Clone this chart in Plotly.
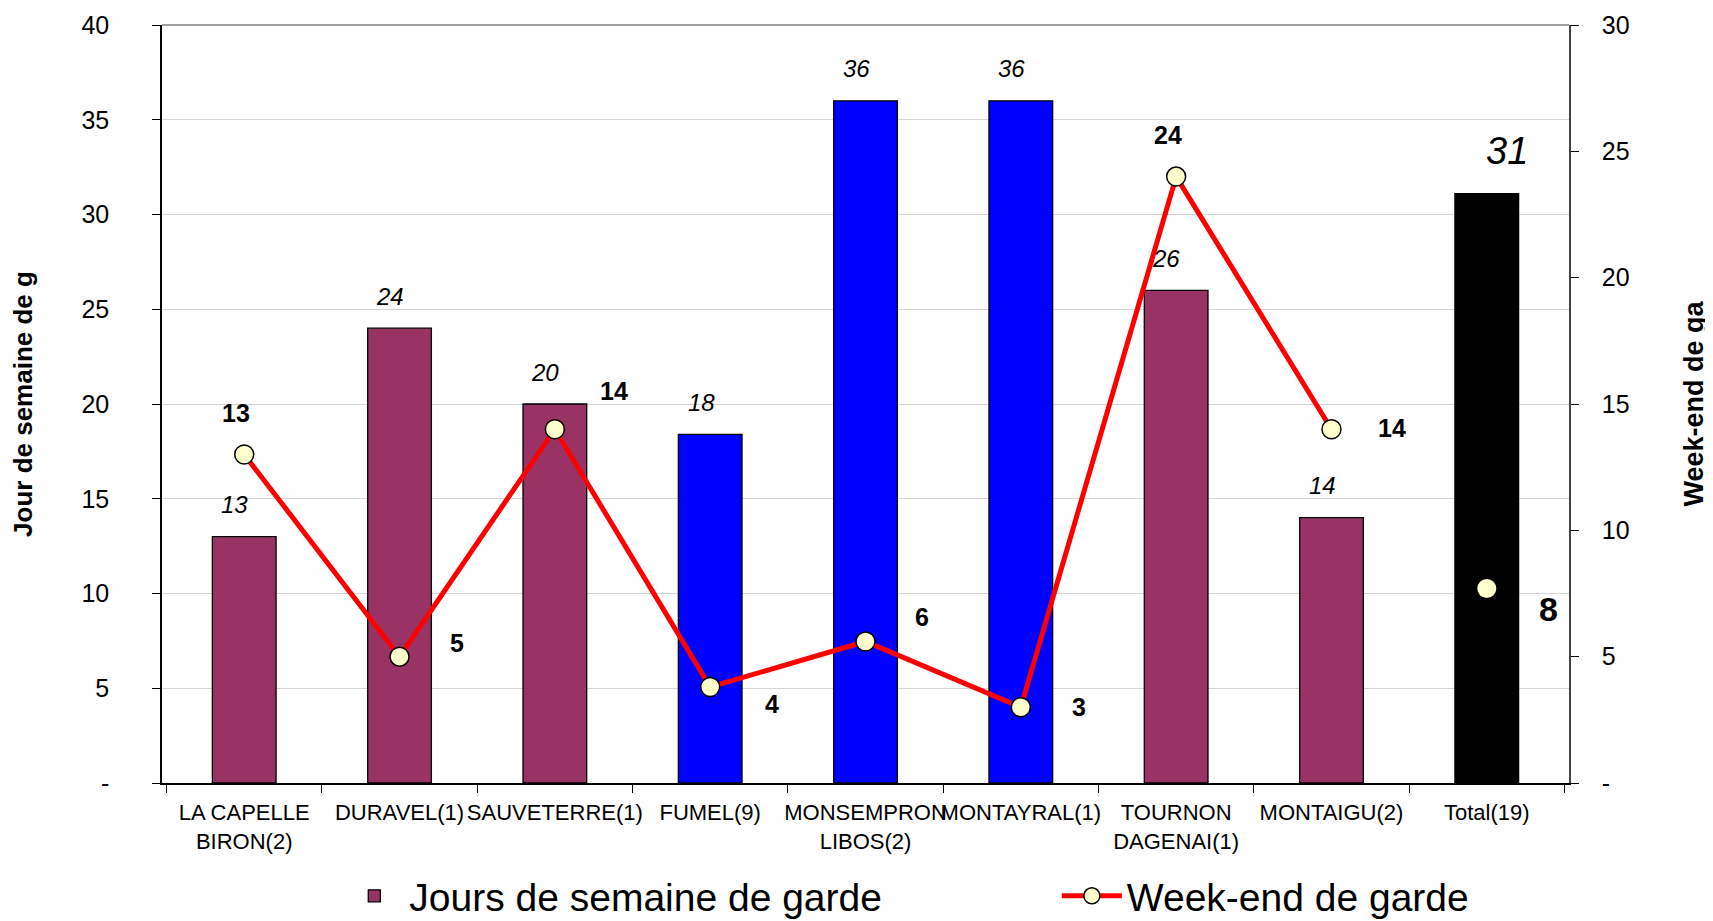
import plotly.graph_objects as go

categories = ["LA CAPELLE<br>BIRON(2)", "DURAVEL(1)", "SAUVETERRE(1)", "FUMEL(9)",
              "MONSEMPRON<br>LIBOS(2)", "MONTAYRAL(1)", "TOURNON<br>DAGENAI(1)",
              "MONTAIGU(2)", "Total(19)"]
weekday_days = [13, 24, 20, 18.4, 36, 36, 26, 14, 31.1]
weekday_labels = ["13", "24", "20", "18", "36", "36", "26", "14", "31"]
weekend_days = [13, 5, 14, 3.8, 5.6, 3, 24, 14, 7.7]
weekend_labels = ["13", "5", "14", "4", "6", "3", "24", "14", "8"]
left_ticks = [0, 5, 10, 15, 20, 25, 30, 35, 40]
left_ticktext = ["-", "5", "10", "15", "20", "25", "30", "35", "40"]
right_ticks = [0, 5, 10, 15, 20, 25, 30]
right_ticktext = ["-", "5", "10", "15", "20", "25", "30"]

# styles
MAROON = "#993366"
BLUE = "#0000FF"
bar_colors = [MAROON, MAROON, MAROON, BLUE, BLUE, BLUE, MAROON, MAROON, "#000000"]
FONT = "Liberation Sans, Arial, sans-serif"

# label offsets in pixels (style only)
bar_label_dx = [-10, -10, -10, -9, -9, -9, -10, -9, 20]
bar_label_dy = [32, 32, 32, 32, 32, 32, 32, 32, 43]
bar_label_size = [24, 24, 24, 24, 24, 24, 24, 24, 38]
line_label_dx = [-8, 57, 59, 62, 56, 58, -8, 61, 62]
line_label_dy = [42, 14, 38, -17, 25, 0, 42, 1, -21]
line_label_size = [25, 25, 25, 25, 25, 25, 25, 25, 34]

fig = go.Figure()
fig.add_trace(go.Bar(
    x=categories, y=weekday_days, name="Jours de semaine de garde",
    marker=dict(color=bar_colors, line=dict(color="#000000", width=1.3)),
    yaxis="y", legend="legend",
))
n_line = len(categories) - 1
fig.add_trace(go.Scatter(
    x=categories[:n_line], y=weekend_days[:n_line], name="Week-end de garde",
    mode="lines+markers", yaxis="y2", legend="legend2",
    line=dict(color="#FF0000", width=5),
    marker=dict(symbol="circle", size=19, color="#FFFFCC",
                line=dict(color="#000000", width=1.5)),
))
fig.add_trace(go.Scatter(
    x=categories[n_line:], y=weekend_days[n_line:], name="Week-end de garde",
    mode="markers", yaxis="y2", showlegend=False,
    marker=dict(symbol="circle", size=19, color="#FFFFCC",
                line=dict(color="#000000", width=0)),
))

annotations = []
for i, c in enumerate(categories):
    annotations.append(dict(
        x=c, y=weekday_days[i], xref="x", yref="y",
        text="<i>" + weekday_labels[i] + "</i>",
        showarrow=False, xanchor="center", yanchor="middle",
        xshift=bar_label_dx[i], yshift=bar_label_dy[i],
        font=dict(family=FONT, size=bar_label_size[i], color="#000000"),
    ))
    annotations.append(dict(
        x=c, y=weekend_days[i], xref="x", yref="y2",
        text="<b>" + weekend_labels[i] + "</b>",
        showarrow=False, xanchor="center", yanchor="middle",
        xshift=line_label_dx[i], yshift=line_label_dy[i],
        font=dict(family=FONT, size=line_label_size[i], color="#000000"),
    ))

legend_style = dict(orientation="h", yanchor="middle", y=-0.149, xanchor="left",
                    font=dict(size=39, family=FONT), itemwidth=60,
                    bgcolor="rgba(0,0,0,0)")

fig.update_layout(
    width=1705, height=913,
    margin=dict(l=154, r=144, t=17, b=138, autoexpand=False),
    paper_bgcolor="#FFFFFF", plot_bgcolor="#FFFFFF",
    font=dict(family=FONT, color="#000000"),
    bargap=0.59,
    showlegend=True,
    legend=dict(legend_style, x=0.126),
    legend2=dict(legend_style, x=0.636),
    annotations=annotations,
    shapes=[dict(type="line", xref="paper", yref="paper", x0=0, x1=1, y0=1, y1=1,
                 line=dict(color="#808080", width=1.5))],
    xaxis=dict(
        tickson="boundaries", ticks="outside", ticklen=8, tickcolor="#000000",
        showline=True, linecolor="#000000", linewidth=1.5, showgrid=False,
        tickfont=dict(size=22, family=FONT), ticklabelstandoff=9,
        tickangle=0, automargin=False,
    ),
    yaxis=dict(
        range=[0, 40], tickvals=left_ticks, ticktext=left_ticktext,
        ticks="outside", ticklen=8, tickcolor="#000000",
        showline=True, linecolor="#000000", linewidth=1.5,
        showgrid=True, gridcolor="#D4D4D4", gridwidth=1,
        tickfont=dict(size=25, family=FONT), ticklabelstandoff=38,
        zeroline=False, automargin=False,
        title=dict(text="<b>Jour de semaine de g</b>", font=dict(size=26, family=FONT), standoff=42),
    ),
    yaxis2=dict(
        range=[0, 30], tickvals=right_ticks, ticktext=right_ticktext,
        overlaying="y", side="right",
        ticks="outside", ticklen=8, tickcolor="#000000",
        showline=True, linecolor="#444444", linewidth=1.5,
        showgrid=False, zeroline=False, automargin=False,
        tickfont=dict(size=25, family=FONT), ticklabelstandoff=18,
        title=dict(text="<b>Week-end de ga</b>", font=dict(size=27, family=FONT), standoff=56),
    ),
)

fig.write_html("out.html")
